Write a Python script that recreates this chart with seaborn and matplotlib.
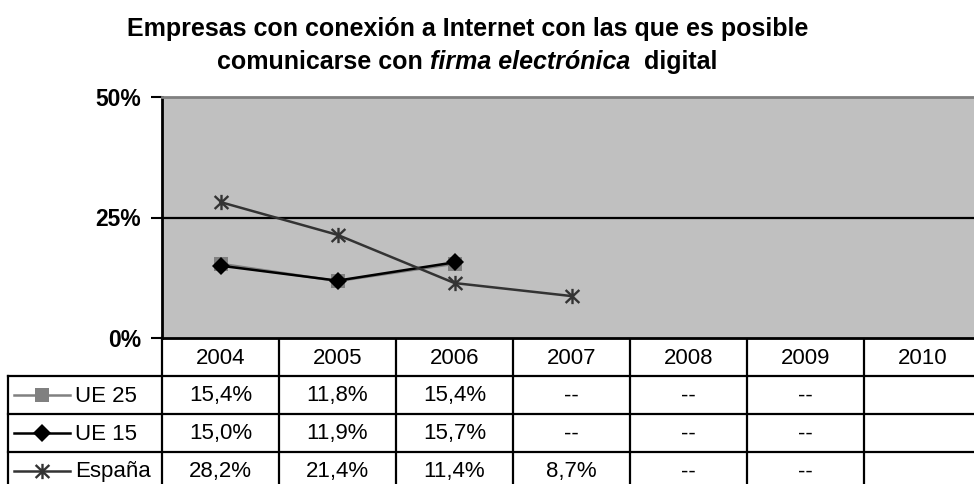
import numpy as np
import pandas as pd
import matplotlib
matplotlib.use("Agg")
import matplotlib.pyplot as plt
from matplotlib.path import Path
import seaborn as sns

# ---------------- data ----------------
years = ["2004", "2005", "2006", "2007", "2008", "2009", "2010"]
series_names = ["UE 25", "UE 15", "España"]
ue25 = [15.4, 11.8, 15.4, np.nan, np.nan, np.nan, np.nan]
ue15 = [15.0, 11.9, 15.7, np.nan, np.nan, np.nan, np.nan]
espana = [28.2, 21.4, 11.4, 8.7, np.nan, np.nan, np.nan]
table_ue25 = ["15,4%", "11,8%", "15,4%", "--", "--", "--", ""]
table_ue15 = ["15,0%", "11,9%", "15,7%", "--", "--", "--", ""]
table_espana = ["28,2%", "21,4%", "11,4%", "8,7%", "--", "--", ""]
y_ticks = [0, 25, 50]
y_tick_labels = ["0%", "25%", "50%"]
title_line1 = "Empresas con conexión a Internet con las que es posible"
title_line2 = [("comunicarse con ", "normal"), ("firma electrónica", "italic"), ("  digital", "normal")]

values = {"UE 25": ue25, "UE 15": ue15, "España": espana}
table_texts = {"UE 25": table_ue25, "UE 15": table_ue15, "España": table_espana}

rows = []
for name in series_names:
    for i, v in enumerate(values[name]):
        rows.append({"serie": name, "pos": i, "year": years[i], "valor": v})
df = pd.DataFrame(rows).dropna()

# ---------------- style ----------------
plt.rcParams["font.family"] = ["Liberation Sans", "DejaVu Sans"]
star = Path([(0, -1), (0, 1), (-0.9, -0.85), (0.9, 0.85), (-0.9, 0.85), (0.9, -0.85)],
            [Path.MOVETO, Path.LINETO] * 3)
styles = {
    "UE 25": dict(color="#808080", marker="s", markersize=10.5, mfc="#808080", mec="#808080", lw=1.8, mew=0),
    "UE 15": dict(color="#000000", marker="D", markersize=9, mfc="#000000", mec="#000000", lw=1.8, mew=0),
    "España": dict(color="#333333", marker=star, markersize=11, mfc="#333333", mec="#333333", lw=1.8, mew=1.7),
}

W, H = 974, 484
fig = plt.figure(figsize=(W / 100, H / 100), dpi=100)
fig.patch.set_facecolor("white")

L, T, B, CW, RH = 162, 97, 338, 117, 38
R = L + CW * len(years)

# table / frame axes in pixel coordinates
tax = fig.add_axes([0, 0, 1, 1])
tax.set_xlim(0, W)
tax.set_ylim(H, 0)
tax.axis("off")

ax = fig.add_axes([L / W, 1 - B / H, (R - L) / W, (B - T) / H])
ax.set_facecolor("#c0c0c0")

for name in ["UE 25", "UE 15", "España"]:
    st = styles[name]
    sns.lineplot(data=df[df.serie == name], x="pos", y="valor", ax=ax,
                 color=st["color"], marker=st["marker"], markersize=st["markersize"],
                 markerfacecolor=st["mfc"], markeredgecolor=st["mec"],
                 markeredgewidth=st["mew"], linewidth=st["lw"], legend=False,
                 zorder=3)

ax.set_xlim(-0.5, len(years) - 0.5)
ax.set_ylim(y_ticks[0], y_ticks[-1])
ax.set_xticks([])
ax.set_xlabel("")
ax.set_ylabel("")
ax.set_yticks(y_ticks)
ax.set_yticklabels(y_tick_labels, fontsize=16.5, fontweight="bold")
ax.tick_params(axis="y", length=8, width=1.5, pad=7, color="black")
for yv in y_ticks[1:-1]:
    ax.axhline(yv, color="black", lw=1.6, zorder=2)
ax.spines["left"].set_linewidth(2)
ax.spines["left"].set_color("black")
ax.spines["bottom"].set_linewidth(2)
ax.spines["bottom"].set_color("black")
ax.spines["top"].set_linewidth(2)
ax.spines["top"].set_color("#808080")
ax.spines["right"].set_visible(False)

# ---------------- data table ----------------
lw_t = 1.6
tfs_tab = 16
nrows = len(series_names)
bottom = B + RH * (nrows + 1)
tax.plot([L, R], [B, B], color="black", lw=lw_t)
for r in range(1, nrows + 2):
    tax.plot([8, R], [B + r * RH, B + r * RH], color="black", lw=lw_t)
for c in range(len(years) + 1):
    tax.plot([L + c * CW, L + c * CW], [B, bottom], color="black", lw=lw_t)
tax.plot([8, 8], [B + RH, bottom], color="black", lw=lw_t)

for c, yr in enumerate(years):
    tax.text(L + (c + 0.5) * CW, B + RH / 2 + 1, yr, ha="center", va="center", fontsize=tfs_tab)

for r, name in enumerate(series_names):
    yc = B + RH * (r + 1.5)
    for c, txt in enumerate(table_texts[name]):
        tax.text(L + (c + 0.5) * CW, yc + 1, txt, ha="center", va="center", fontsize=tfs_tab)
    st = styles[name]
    tax.plot([14, 70], [yc, yc], color=st["color"], lw=st["lw"])
    tax.plot([42], [yc], linestyle="none", marker=st["marker"], markersize=st["markersize"],
             mfc=st["mfc"], mec=st["mec"], mew=st["mew"])
    tax.text(75, yc + 1, name, ha="left", va="center", fontsize=tfs_tab)

# ---------------- title ----------------
tfs = 18
fig.text(468 / W, 1 - 36 / H, title_line1, ha="center", va="baseline",
         fontsize=tfs, fontweight="bold")
renderer = fig.canvas.get_renderer()
pieces = []
for txt, style in title_line2:
    t = fig.text(0, 1 - 69 / H, txt, ha="left", va="baseline", fontsize=tfs,
                 fontweight="bold", fontstyle=style)
    pieces.append(t)
widths = [p.get_window_extent(renderer).width for p in pieces]
x0 = 467 - sum(widths) / 2
for p, w in zip(pieces, widths):
    p.set_x(x0 / W)
    x0 += w

fig.savefig("out.png", dpi=100)
